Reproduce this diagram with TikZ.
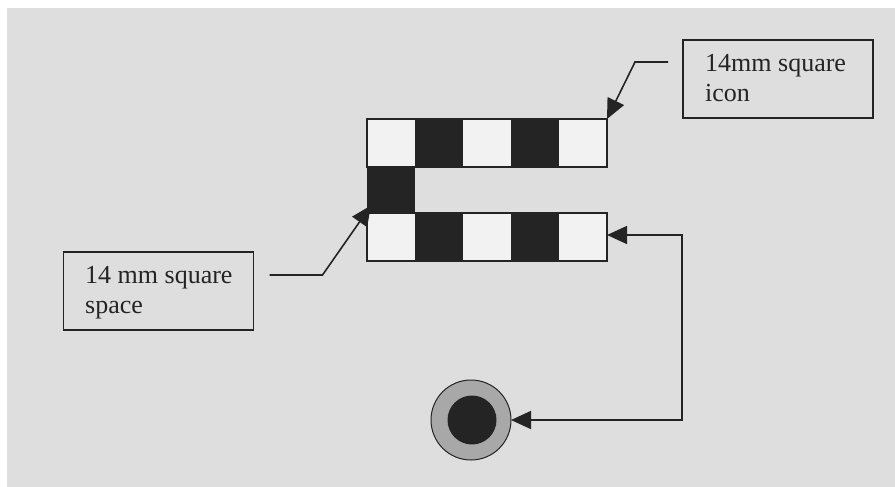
\documentclass[tikz,border=0pt]{standalone}
\usepackage{fontspec}
\setmainfont{Liberation Serif}
\usetikzlibrary{arrows.meta}
\definecolor{bgc}{HTML}{DEDEDE}
\definecolor{cellw}{HTML}{F2F2F2}
\definecolor{darkc}{HTML}{242424}
\definecolor{ringc}{HTML}{A8A8A8}
\begin{document}
\begin{tikzpicture}[x=1pt,y=-1pt,
  rowbox/.style={draw=darkc, line width=1.6pt, fill=cellw, minimum width=240pt, minimum height=48pt, inner sep=0pt, outer sep=0pt},
  darkcell/.style={fill=darkc, minimum width=48pt, minimum height=48pt, inner sep=0pt, outer sep=0pt},
  lbox/.style={draw=darkc, line width=1.6pt, minimum width=190pt, minimum height=78pt, inner sep=0pt, outer sep=0pt},
  ltext/.style={anchor=base west, inner sep=0pt, text=darkc, font=\fontsize{26}{30}\selectfont},
  conn/.style={draw=darkc, line width=1.6pt},
  tipend/.style={-{Triangle[length=20pt,width=18pt]}},
  tipboth/.style={{Triangle[length=20pt,width=18pt]}-{Triangle[length=20pt,width=18pt]}}
]
\useasboundingbox (0,0) rectangle (895,487);
\fill[bgc] (7,8) rectangle (895,487);

% grid of cells
\node[rowbox] (toprow) at (487,143) {};
\node[darkcell] (t2) at (439,143) {};
\node[darkcell] (t4) at (535,143) {};
\node[rowbox] (botrow) at (487,237) {};
\node[darkcell] (b2) at (439,237) {};
\node[darkcell] (b4) at (535,237) {};
\node[darkcell, minimum height=47pt] (midsq) at (391,190) {};

% label boxes
\node[lbox] (iconbox) at (778,79) {};
\node[ltext] (icontext1) at (705,72) {14mm square};
\node[ltext] (icontext2) at (705,102) {icon};

\node[lbox] (spacebox) at (158.5,291) {};
\node[ltext] (spacetext1) at (85,283) {14 mm square};
\node[ltext] (spacetext2) at (85,313) {space};

% target circle
\node[circle, draw=darkc, line width=1pt, fill=ringc, minimum size=80pt, inner sep=0pt, outer sep=0pt] (eye) at (471,420) {};
\node[circle, fill=darkc, minimum size=49pt, inner sep=0pt] (pupil) at (472,420) {};

% connectors
\draw[conn, tipend] ([xshift=-15pt, yshift=17pt]iconbox.west) -- ++(-33,0) -- (toprow.north east);
\draw[conn, tipend] ([xshift=16pt, yshift=16pt]spacebox.east) -- ++(53,0) -- ([xshift=4pt, yshift=8pt]midsq.south west);
\draw[conn, tipboth] ([yshift=2pt]botrow.east) -- ++(75,0) |- (eye.east);
\end{tikzpicture}
\end{document}
